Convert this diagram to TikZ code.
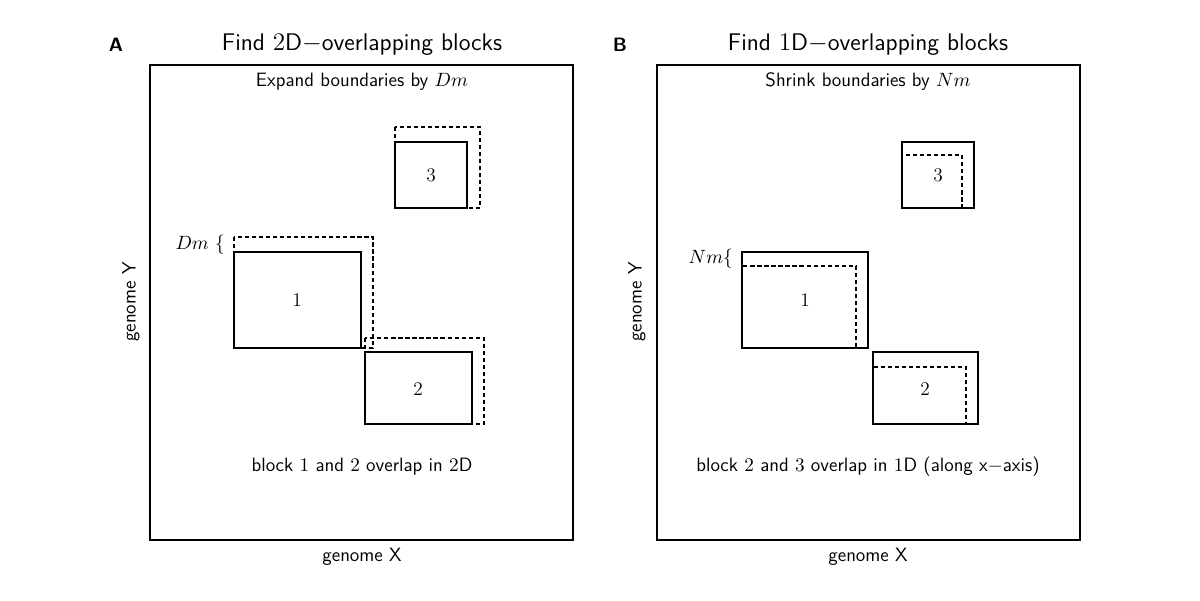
\documentclass[tikz,border=0pt]{standalone}
\usepackage{amsmath}
\usetikzlibrary{positioning}

\begin{document}
\begin{tikzpicture}[x=0.02cm, y=-0.02cm,
    frame/.style={line width=1.1pt},
    blockbox/.style={line width=1pt},
    margin/.style={line width=0.8pt, dash pattern=on 2.4pt off 1.6pt},
    title/.style={font=\sffamily\fontsize{13.7}{16}\selectfont},
    note/.style={font=\sffamily\fontsize{11}{13}\selectfont},
    num/.style={font=\fontsize{11}{13}\selectfont},
    panel/.style={font=\sffamily\bfseries\fontsize{11}{13}\selectfont}]
  \useasboundingbox (0,0) rectangle (1200,600);

  % Panel A
  \node[panel] (lblA) at (116,45) {A};
  \node[title] (titA) at (362,45) {Find $2$D$-$overlapping blocks};
  \draw[frame] (150,65) rectangle (573,540);
  \node[note] (expA) at (362,82) {Expand boundaries by $Dm$};
  \node[note] (resA) at (362,467) {block $1$ and $2$ overlap in $2$D};
  \node[note] (gxA) at (362,557) {genome X};
  \node[note, rotate=90] (gyA) at (131,302) {genome Y};

  % blocks
  \draw[blockbox] (395,142) rectangle (467,208);
  \draw[margin] (395,127) rectangle (480,208);
  \node[num] (a3) at (431,175) {3};
  \draw[blockbox] (234,252) rectangle (361,348);
  \draw[margin] (234,237) rectangle (373,348);
  \node[num] (a1) at (297,300) {1};
  \draw[blockbox] (365,352) rectangle (472,424);
  \draw[margin] (365,338) rectangle (484,424);
  \node[num] (a2) at (418,389) {2};
  \node[num, left] (dm) at (231,245) {$Dm\ \{$};

  % Panel B
  \node[panel] (lblB) at (620,45) {B};
  \node[title] (titB) at (868,45) {Find $1$D$-$overlapping blocks};
  \draw[frame] (657,65) rectangle (1080,540);
  \node[note] (shrB) at (868,82) {Shrink boundaries by $Nm$};
  \node[note] (resB) at (868,467) {block $2$ and $3$ overlap in $1$D (along x$-$axis)};
  \node[note] (gxB) at (868,557) {genome X};
  \node[note, rotate=90] (gyB) at (637,302) {genome Y};

  % blocks
  \draw[blockbox] (902,142) rectangle (974,208);
  \draw[margin] (902,155) rectangle (962,208);
  \node[num] (b3) at (938,175) {3};
  \draw[blockbox] (742,252) rectangle (868,348);
  \draw[margin] (742,266) rectangle (856,348);
  \node[num] (b1) at (805,300) {1};
  \draw[blockbox] (873,352) rectangle (978,424);
  \draw[margin] (873,367) rectangle (966,424);
  \node[num] (b2) at (925,389) {2};
  \node[num, left] (nm) at (739,259) {$Nm\{$};
\end{tikzpicture}
\end{document}
